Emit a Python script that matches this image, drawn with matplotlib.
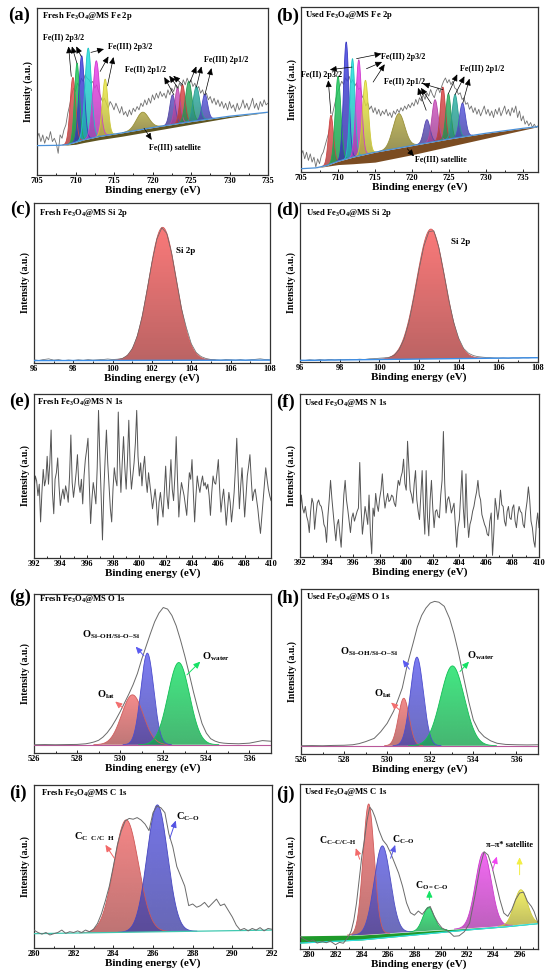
import numpy as np
import matplotlib
matplotlib.use('Agg')
import matplotlib.pyplot as plt
import matplotlib.colors as mcolors

plt.rcParams['font.family'] = ['Liberation Serif', 'DejaVu Serif']
plt.rcParams['font.weight'] = 'bold'
plt.rcParams['axes.labelweight'] = 'bold'
plt.rcParams['mathtext.fontset'] = 'custom'
plt.rcParams['mathtext.rm'] = 'Liberation Serif:bold'
plt.rcParams['mathtext.it'] = 'Liberation Serif:bold'
plt.rcParams['mathtext.bf'] = 'Liberation Serif:bold'
plt.rcParams['axes.linewidth'] = 0.9
plt.rcParams['axes.edgecolor'] = '#333333'

# ---------------- data (intensities in % of panel height) ----------------
# (a) fresh Fe 2p, raw spectrum 705-735 eV, step 0.25
fe_a_raw = [22, 25, 20, 24, 19, 23, 21, 26, 20, 22, 19, 13, 24, 22, 27, 30,
            37, 42, 48, 52, 50, 55, 53, 58, 56, 60, 58, 57, 55, 56, 52, 54,
            50, 47, 44, 46, 43, 40, 44, 42, 39, 43, 40, 37, 41, 36, 38, 35,
            39, 36, 40, 38, 41, 39, 43, 41, 45, 42, 46, 43, 48, 45, 49, 46,
            50, 47, 49, 46, 51, 48, 52, 50, 54, 51, 55, 53, 57, 54, 58, 55,
            57, 53, 55, 51, 53, 49, 51, 47, 49, 45, 47, 43, 46, 42, 45, 41,
            44, 40, 43, 39, 44, 40, 42, 38, 43, 39, 41, 45, 40, 43, 39, 42,
            46, 40, 43, 39, 44, 41, 45, 42, 43]
fe_a_bg_x = [705, 708, 709, 710, 711, 713, 716, 720, 725, 730, 735]
fe_a_bg_y = [17.6, 17.8, 18.3, 19.6, 21, 23, 25.2, 28.4, 32, 35.2, 37.6]
fe_a_band = [0, 0, 0.3, 1.2, 1.6, 1.9, 2.0, 2.0, 1.6, 0.8, 0]
fe_a_centers = [709.66, 710.2, 710.8, 711.65, 712.7, 713.85, 718.7,
                722.6, 723.25, 723.9, 724.7, 725.7, 726.8]
fe_a_tops = [58.4, 67, 71.4, 76, 68.4, 57.4, 37.6, 48, 52, 54, 56, 53, 48.4]
fe_a_sigma = [0.36, 0.32, 0.36, 0.42, 0.45, 0.36, 0.8, 0.36, 0.36, 0.34, 0.42, 0.42, 0.36]

# (b) used Fe 2p, raw spectrum 705-737 eV, step 0.25
fe_b_raw = [10, 13, 8, 12, 7, 11, 6, 9, 3, 8, 5, 10, 12, 16, 20, 24,
            30, 35, 40, 45, 49, 52, 55, 53, 57, 55, 58, 54, 56, 52, 54, 50,
            51, 46, 44, 40, 42, 38, 40, 36, 39, 35, 38, 34, 37, 35, 38, 34,
            36, 33, 37, 35, 38, 36, 39, 37, 40, 38, 41, 39, 42, 40, 44, 41,
            45, 43, 47, 44, 48, 46, 50, 47, 45, 49, 51, 48, 52, 55, 57, 54,
            56, 53, 55, 51, 50, 47, 48, 44, 45, 41, 42, 38, 40, 36, 39, 35,
            38, 34, 37, 40, 35, 38, 34, 37, 33, 38, 35, 39, 34, 37, 40, 35,
            38, 34, 39, 36, 40, 33, 37, 31, 34, 29, 31, 28, 30, 27, 29, 27, 28]
fe_b_bg_x = [705, 707, 708.5, 710, 712, 715, 720, 725, 730, 735, 737]
fe_b_bg_y = [2, 2.5, 4, 6.5, 9, 12, 16, 20, 23.5, 26.5, 27.5]
fe_b_band = [0, 0, 0.5, 2, 4, 6, 5.5, 4.5, 3, 1, 0]
fe_b_centers = [709.04, 710.0, 711.1, 711.95, 712.8, 713.7, 718.2,
                722.0, 723.1, 724.15, 724.9, 725.8, 726.8]
fe_b_tops = [34.3, 58, 78.8, 68.7, 68, 55.6, 35.4, 31.7, 43.8, 51.5, 47.5, 47, 41.8]
fe_b_sigma = [0.34, 0.38, 0.36, 0.34, 0.38, 0.4, 0.8, 0.42, 0.42, 0.34, 0.34, 0.4, 0.4]

fe_colors = ['#f05252', '#20d060', '#4444e6', '#22e6e6', '#f044f0', '#f2ee44',
             '#b4aa44', '#6454c8', '#d454c4', '#e44a4a', '#30b464', '#30b8aa', '#5a5ae4']

# Fe annotations: label, label position, arrow tails, arrow heads
fe_a_labels = ['Fe(II) 2p3/2', 'Fe(III) 2p3/2', 'Fe(II) 2p1/2', 'Fe(III) 2p1/2', 'Fe(III) satellite']
fe_a_label_pos = [(708.4, 82), (717.1, 76.6), (719.1, 62.6), (729.6, 69), (722.9, 16.4)]
fe_a_tails = [[(709.45, 59), (710.18, 67), (710.74, 71)],
              [(712.0, 73.4), (713.2, 62), (714.15, 53.4)],
              [(722.78, 48), (723.34, 52), (723.9, 54)],
              [(724.85, 55.4), (725.7, 52.6), (726.8, 48)],
              [(718.9, 28)]]
fe_a_heads = [[(709.1, 77), (709.53, 77), (710.1, 77)],
              [(713.7, 75.4), (714.28, 71), (714.93, 70.6)],
              [(721.53, 58.6), (722.18, 59.4), (722.7, 59.4)],
              [(725.7, 65), (726.36, 65), (727.66, 64)],
              [(719.9, 21)]]

fe_b_labels = fe_a_labels
fe_b_label_pos = [(707.8, 58.6), (718.8, 69.7), (719.0, 54.5), (729.4, 62.6), (723.9, 7.7)]
fe_b_tails = [[(709.04, 35.4), (711.9, 63.6)],
              [(712.5, 68.7), (713.84, 62.6), (714.74, 54.5)],
              [(721.9, 37.4), (722.6, 41.4), (724.16, 49.9)],
              [(724.9, 47.5), (725.8, 46.9), (726.85, 41.8)],
              [(719.36, 14.1)]]
fe_b_heads = [[(708.68, 55.6), (708.9, 62)],
              [(715.86, 71.7), (715.95, 66.7), (716.3, 65.3)],
              [(720.8, 51), (721.2, 51), (721.45, 53.5)],
              [(726.1, 59.2), (727.07, 58), (727.75, 56.6)],
              [(720.25, 9.5)]]

# (c)/(d) Si 2p, raw 96-108 eV, step 0.25
si_c_raw = [2.0, 1.6, 2.2, 2.6, 1.8, 2.1, 1.5, 1.9, 1.6, 2.0, 1.7, 2.1, 1.8,
            2.0, 2.2, 2.5, 2.2, 2.4, 2.9, 4.8, 9, 16.8, 29, 45.5, 63, 77.5,
            84.5, 81, 68.5, 51, 34, 22, 12, 6.5, 4, 2.8, 2.2, 2.0, 1.8, 2.1,
            2.0, 1.8, 2.1, 1.7, 2.0, 2.3, 2.6, 2.2, 2.0]
si_d_raw = [1.2, 1.0, 1.4, 1.1, 1.5, 1.2, 1.6, 1.3, 1.5, 1.4, 1.7, 1.5, 1.8,
            1.6, 2.0, 2.1, 2.4, 2.6, 3.0, 4.2, 7.8, 14.5, 25.5, 41, 58, 73,
            82, 82.5, 72, 56, 39, 25, 15, 8.5, 5.5, 4, 3.3, 3, 2.8, 2.6, 2.5,
            2.6, 2.4, 2.6, 2.5, 2.7, 2.6, 2.8, 2.7]
si_c_bg = [1.5, 1.8]
si_d_bg = [1.0, 2.7]
si_c_peak = (102.54, 84.8, 0.70)
si_d_peak = (102.6, 83.6, 0.72)

# (e)/(f) N 1s, raw 392-410 eV, step 0.1
n_e_raw = [42, 50, 47, 38, 45, 22, 40, 54, 44, 48, 62, 45, 58, 78, 40, 27,
           48, 52, 61, 44, 32, 38, 42, 36, 44, 40, 34, 50, 75, 46, 37, 44,
           52, 63, 45, 40, 48, 33, 50, 60, 66, 73, 45, 21, 36, 46, 40, 33,
           55, 90, 62, 38, 11, 40, 60, 78, 58, 44, 30, 22, 42, 55, 48, 44,
           89, 60, 40, 58, 74, 55, 42, 60, 84, 56, 42, 50, 58, 70, 90, 62,
           50, 58, 44, 55, 62, 48, 40, 52, 45, 38, 30, 36, 42, 33, 20, 34,
           40, 32, 25, 40, 56, 38, 30, 45, 60, 42, 35, 50, 74, 48, 25, 38,
           46, 42, 38, 32, 26, 40, 52, 48, 60, 40, 22, 38, 50, 44, 40, 46,
           50, 44, 46, 42, 45, 38, 26, 40, 50, 46, 45, 52, 60, 42, 28, 36,
           42, 32, 20, 30, 40, 34, 22, 30, 40, 55, 73, 50, 30, 44, 55, 40,
           25, 38, 50, 56, 63, 48, 35, 40, 42, 36, 30, 22, 15, 25, 35, 45,
           55, 48, 42, 38, 35]
n_f_raw = [27, 38, 30, 27, 31, 25, 22, 15, 28, 36, 33, 17, 26, 33, 35, 32,
           31, 27, 20, 18, 9, 25, 35, 47, 36, 27, 18, 10, 20, 23, 14, 6,
           22, 38, 47, 35, 29, 22, 15, 24, 27, 22, 25, 28, 30, 58, 30, 14,
           22, 31, 26, 20, 38, 15, 2, 30, 25, 39, 32, 28, 36, 41, 51, 38,
           30, 35, 39, 34, 35, 38, 37, 33, 31, 40, 47, 44, 49, 52, 60, 45,
           41, 71, 55, 41, 38, 33, 45, 53, 35, 28, 23, 38, 53, 30, 14, 53,
           25, 13, 35, 47, 30, 18, 28, 29, 25, 24, 38, 47, 77, 45, 27, 35,
           37, 33, 27, 30, 33, 20, 6, 18, 23, 38, 53, 30, 18, 51, 25, 12,
           20, 23, 28, 31, 36, 40, 47, 38, 35, 26, 23, 20, 18, 14, 13, 22,
           27, 1, 15, 36, 30, 23, 30, 41, 32, 31, 22, 19, 28, 31, 24, 23,
           30, 32, 22, 18, 26, 31, 28, 27, 20, 18, 28, 34, 43, 35, 22, 18,
           10, 6, 20, 27, 18]

# (g)/(h) O 1s envelopes and fitted components
o_g_x = [526.0, 526.5, 527.0, 527.5, 528.0, 528.4, 528.6, 528.8, 529.0, 529.2,
         529.4, 529.6, 529.8, 530.0, 530.2, 530.4, 530.6, 530.8, 531.0, 531.2,
         531.4, 531.6, 531.8, 532.0, 532.2, 532.4, 532.6, 532.8, 533.0, 533.2,
         533.4, 533.6, 533.8, 534.0, 534.2, 534.4, 534.6, 534.8, 535.0, 535.5,
         536.0, 536.3, 536.6, 537.0]
o_g_env = [5.2, 5.3, 5.2, 5.3, 5.4, 5.8, 6.3, 7.0, 8.0, 10.0,
           12.8, 16.5, 21, 26, 31.5, 37, 43, 50, 59, 67,
           75, 82.5, 88, 91.5, 90.5, 86.5, 80, 71, 61, 50,
           38.5, 28, 18.5, 12.5, 9, 7.5, 6.6, 6.2, 6.0, 5.8,
           6.2, 7.0, 7.8, 7.4]
o_h_x = [526.0, 526.5, 527.0, 527.5, 528.0, 528.4, 528.7, 529.0, 529.4, 529.7,
         530.0, 530.3, 530.5, 530.7, 530.95, 531.2, 531.4, 531.6, 531.8, 532.0,
         532.2, 532.4, 532.65, 532.9, 533.1, 533.3, 533.57, 533.8, 534.0, 534.25,
         534.5, 534.8, 535.1, 535.5, 536.0, 536.5, 537.0]
o_h_env = [5.0, 5.1, 5.0, 5.2, 5.3, 5.6, 6.3, 7.5, 9.5, 13.5,
           18.6, 26, 32.8, 40, 55, 67, 77, 84, 88.5, 91.5,
           92.5, 92, 89.5, 82, 73, 62, 45, 31, 20.6, 14,
           10.5, 8, 6.5, 5.8, 5.6, 5.5, 5.6]
o_g_base = 5.2
o_h_base = 5.0
o_g_centers = [530.57, 531.26, 532.72]
o_g_tops = [36.6, 62.8, 56.9]
o_g_sigma = [0.5, 0.3, 0.5]
o_h_centers = [530.77, 531.38, 533.03]
o_h_tops = [33.8, 58.7, 53.4]
o_h_sigma = [0.25, 0.3, 0.55]
o_colors = ['#f26e6e', '#5a5af0', '#14e264']
o_labels = ['O$_{lat}$', 'O$_{Si\u2013OH/Si\u2013O\u2013Si}$', 'O$_{water}$']
o_g_label_pos = [(529.34, 36.6), (529.57, 74.3), (534.45, 60.3)]
o_g_tails = [(530.14, 28.2), (531.1, 61.1), (533.1, 49.2)]
o_g_heads = [(529.77, 32.4), (530.72, 66.9), (533.72, 57.5)]
o_h_label_pos = [(529.8, 36.8), (529.14, 62.1), (534.34, 59.5)]
o_h_tails = [(530.57, 26.7), (531.03, 51.4), (533.38, 50)]
o_h_heads = [(530.18, 31.2), (530.72, 57), (533.8, 56)]

# (i) fresh C 1s, envelope 280-292 eV, step 0.2
c_i_env = [11, 9.5, 8.5, 9.5, 8.0, 8.8, 9.5, 11, 9.0, 10, 9.5, 10.5, 9.5,
           11, 10, 11.5, 15, 21, 29, 38, 50, 63, 72, 78, 79.5, 79, 80, 78.5,
           76, 72, 83, 87, 86, 83, 70, 62, 50, 44, 38, 26, 27, 25, 26, 28,
           25, 27.5, 30, 26, 27, 23, 19, 14, 11, 12, 10.5, 12, 11, 12.5,
           10.5, 12, 11.5]
c_i_bg = [8.8, 11]
c_i_centers = [284.65, 286.22]
c_i_tops = [78.6, 87.8]
c_i_sigma = [0.62, 0.52]
c_i_colors = ['#f26868', '#5252e2']
c_i_labels = ['C$_{C\\ \\ C/C\\ \\ H}$', 'C$_{C\u2013O}$']
c_i_label_pos = [(283.05, 68.4), (287.77, 80.6)]
c_i_tails = [(284.05, 55.1), (286.85, 67.3)]
c_i_heads = [(283.6, 63.3), (287.15, 78.2)]

# (j) used C 1s
c_j_x = [279.3, 279.6, 280.0, 280.3, 280.6, 281.0, 281.3, 281.6, 282.0, 282.3,
         282.6, 283.0, 283.2, 283.4, 283.6, 283.8, 284.0, 284.2, 284.4, 284.6,
         284.8, 285.0, 285.3, 285.6, 285.9, 286.2, 286.5, 286.8, 287.1, 287.4,
         287.7, 288.0, 288.3, 288.6, 288.9, 289.2, 289.5, 289.8, 290.1, 290.4,
         290.7, 291.0, 291.4, 291.8, 292.2, 292.6, 293.0, 293.3, 293.6, 293.9,
         294.2, 294.5, 294.8, 295.1, 295.4, 295.7, 296.0, 296.3, 296.6, 296.9,
         297.1, 297.4]
c_j_env = [7.7, 6.0, 4.5, 5.5, 3.6, 4.5, 3.8, 4.8, 2.6, 4.0,
           3.5, 7.7, 11, 17.7, 28, 42, 56, 66, 78, 86,
           84, 80, 72, 66, 63, 58, 52, 46, 38, 28,
           22, 20.5, 23, 21, 24, 25.8, 20, 15.7, 12.7, 11.5,
           10, 7.7, 8, 10.5, 15.7, 32, 50, 59, 57, 50,
           40, 30, 21.8, 19.8, 23.8, 30, 33.9, 34.5, 28.8, 25.8,
           22.8, 15.7]
c_j_bg_x = [279.3, 284, 288, 292, 295, 297.4]
c_j_bg_top = [8, 8.5, 10.5, 12.5, 14, 15.7]
c_j_bg_low = [3.6, 5.5, 8.5, 11.5, 13.5, 15.4]
c_j_centers = [284.52, 285.56, 289.07, 293.25, 296.09]
c_j_tops = [87.9, 62.5, 25.4, 58.5, 35.9]
c_j_sigma = [0.42, 0.62, 0.42, 0.6, 0.5]
c_j_colors = ['#f26a6a', '#5a5ae6', '#14e264', '#f044f0', '#f2ee44']
c_j_labels = ['C$_{C\u2013C/C\u2013H}$', 'C$_{C\u2013O}$', 'C$_{O=C\u2013O}$', '\u03c0\u2013\u03c0* satellite', '']
c_j_label_pos = [(282.15, 65.7), (287.17, 66.5), (289.34, 38.3), (295.2, 63.1), (296.0, 60)]
c_j_tails = [(283.84, 54.4), (286.19, 55), (289.14, 29.8), (293.94, 47.6), (296.0, 45)]
c_j_heads = [(283.54, 61.1), (286.54, 63.1), (289.14, 35.5), (294.27, 56), (296.0, 55.6)]

# ---------------- helpers ----------------
fig = plt.figure(figsize=(5.5, 9.8), dpi=100)


def make_ax(l, t, r, b):
    return fig.add_axes([l / 550, 1 - b / 980, (r - l) / 550, (b - t) / 980])


def style(ax, xlim, ticks, title, dx, dy):
    ax.set_xlim(*xlim)
    ax.set_ylim(0, 100)
    ax.set_xticks(ticks)
    step = ticks[1] - ticks[0]
    minor = np.arange(ticks[0] - step / 2, xlim[1] + 0.01, step / 2)
    ax.set_xticks([m for m in minor if xlim[0] <= m <= xlim[1]], minor=True)
    ax.set_yticks([])
    ax.tick_params(axis='x', which='both', direction='in', labelsize=6, pad=1.5, width=0.6)
    ax.tick_params(axis='x', which='major', length=2.5)
    ax.tick_params(axis='x', which='minor', length=1.5)
    ax.set_xlabel('Binding energy (eV)', fontsize=8, labelpad=0.5)
    ax.set_ylabel('Intensity (a.u.)', fontsize=7, labelpad=3)
    ax.annotate(title, xy=(0, 1), xycoords='axes fraction', xytext=(dx * 0.72, -dy * 0.72),
                textcoords='offset points', fontsize=6.2, va='center', ha='left')


def peak(ax, x, base, c, top, s, color, z=3, alpha=0.8):
    amp = top - np.interp(c, x, base)
    y = base + amp * np.exp(-0.5 * ((x - c) / s) ** 2)
    keep = (y - base) > 0.05
    xs, bs, ys = x[keep], base[keep], y[keep]
    poly = ax.fill_between(xs, bs, ys, facecolor='none', edgecolor='none', zorder=z)
    rgb = np.array(mcolors.to_rgb(color))
    t = np.linspace(0, 1, 60)[:, None]
    grad = (rgb * 0.68 + 0.04) * (1 - t) + rgb * t
    img = np.concatenate([np.clip(grad, 0, 1), np.full((60, 1), alpha)], axis=1)[:, None, :]
    im = ax.imshow(img, extent=[xs.min(), xs.max(), bs.min(), ys.max()], origin='lower',
                   aspect='auto', interpolation='bilinear', zorder=z)
    im.set_clip_path(poly.get_paths()[0], transform=ax.transData)
    ax.plot(xs, ys, color=rgb * 0.85, lw=0.6, zorder=z + 0.1)


def arrow(ax, tail, head, color='black', lw=0.5):
    ax.annotate('', xy=head, xytext=tail,
                arrowprops=dict(arrowstyle='-|>,head_length=0.4,head_width=0.18',
                                color=color, lw=lw, shrinkA=0, shrinkB=0), zorder=6)


def fe_panel(ax, xlim, raw, bg_x, bg_y, band, cs, tops, sig):
    xr = np.linspace(xlim[0], xlim[0] + 0.25 * (len(raw) - 1), len(raw))
    ax.plot(xr, raw, color='#707070', lw=0.6, zorder=2)
    xg = np.linspace(xlim[0], xlim[1], 1200)
    base = np.interp(xg, bg_x, bg_y)
    low = np.interp(xg, bg_x, np.array(bg_y) - np.array(band))
    for c, tp, s, col in zip(cs, tops, sig, fe_colors):
        peak(ax, xg, base, c, tp, s, col, z=3, alpha=0.85)
    ax.plot(bg_x, bg_y, color='#4a90d8', lw=0.9, zorder=4)
    return xg, base, low


# ---------------- (a) ----------------
ax = make_ax(37, 8, 268, 175)
xg, base, low = fe_panel(ax, (705, 735), fe_a_raw, fe_a_bg_x, fe_a_bg_y, fe_a_band,
                         fe_a_centers, fe_a_tops, fe_a_sigma)
ax.fill_between(xg, low, base, color='#5f5520', zorder=3.5, lw=0)
for lab, pos, tl, hd in zip(fe_a_labels, fe_a_label_pos, fe_a_tails, fe_a_heads):
    ax.text(pos[0], pos[1], lab, fontsize=5.8, ha='center', va='center', zorder=7)
    for t_, h_ in zip(tl, hd):
        arrow(ax, t_, h_)
style(ax, (705, 735), [705, 710, 715, 720, 725, 730, 735], 'Fresh Fe$_3$O$_4$@MS Fe 2p', 5, 8)

# ---------------- (b) ----------------
ax = make_ax(301, 7, 538, 172)
xg, base, low = fe_panel(ax, (705, 737), fe_b_raw, fe_b_bg_x, fe_b_bg_y, fe_b_band,
                         fe_b_centers, fe_b_tops, fe_b_sigma)
ax.fill_between(xg, low, base, color='#7b4c22', zorder=3.5, lw=0)
for lab, pos, tl, hd in zip(fe_b_labels, fe_b_label_pos, fe_b_tails, fe_b_heads):
    ax.text(pos[0], pos[1], lab, fontsize=5.8, ha='center', va='center', zorder=7)
    for t_, h_ in zip(tl, hd):
        arrow(ax, t_, h_)
style(ax, (705, 737), [705, 710, 715, 720, 725, 730, 735], 'Used Fe$_3$O$_4$@MS Fe 2p', 4, 8)

# ---------------- (c), (d) ----------------
for rect, raw, bg, pk, title, dxy, lpos in [
        ((34, 203, 270, 363), si_c_raw, si_c_bg, si_c_peak, 'Fresh Fe$_3$O$_4$@MS Si 2p', (5, 10), (103.73, 69.8)),
        ((300, 203, 538, 362), si_d_raw, si_d_bg, si_d_peak, 'Used Fe$_3$O$_4$@MS Si 2p', (5.5, 10), (104.1, 75.2))]:
    ax = make_ax(*rect)
    xr = np.linspace(96, 108, len(raw))
    xg = np.linspace(96, 108, 800)
    base = np.interp(xg, [96, 108], bg)
    peak(ax, xg, base, pk[0], pk[1], pk[2], '#fa6a6a', z=3, alpha=0.9)
    ax.plot([96, 108], bg, color='#3a8ee8', lw=1.0, zorder=4)
    ax.plot(xr, raw, color='#666666', lw=0.5, zorder=3.5)
    ax.text(lpos[0], lpos[1], 'Si 2p', fontsize=6.5, ha='center', va='center')
    style(ax, (96, 108), [96, 98, 100, 102, 104, 106, 108], title, *dxy)

# ---------------- (e), (f) ----------------
for rect, raw, title, dxy in [
        ((34, 394, 271, 558), n_e_raw, 'Fresh Fe$_3$O$_4$@MS N 1s', (3, 8)),
        ((300, 394, 539, 557), n_f_raw, 'Used Fe$_3$O$_4$@MS N 1s', (4, 9))]:
    ax = make_ax(*rect)
    xr = np.linspace(392, 410, len(raw))
    ax.plot(xr, raw, color='#555555', lw=0.7)
    style(ax, (392, 410), [392, 394, 396, 398, 400, 402, 404, 406, 408, 410], title, *dxy)

# ---------------- (g), (h) ----------------
for rect, ex, ey, b0, cs, tops, sig, lpos, tl, hd, title, dxy in [
        ((34, 594, 271, 753), o_g_x, o_g_env, o_g_base, o_g_centers, o_g_tops, o_g_sigma,
         o_g_label_pos, o_g_tails, o_g_heads, 'Fresh Fe$_3$O$_4$@MS O 1s', (5, 5)),
        ((301, 589, 538, 754), o_h_x, o_h_env, o_h_base, o_h_centers, o_h_tops, o_h_sigma,
         o_h_label_pos, o_h_tails, o_h_heads, 'Used Fe$_3$O$_4$@MS O 1s', (4.7, 8))]:
    ax = make_ax(*rect)
    xg = np.linspace(526, 537, 900)
    base = np.full_like(xg, b0)
    for c, tp, s, col in zip(cs, tops, sig, o_colors):
        peak(ax, xg, base, c, tp, s, col, z=3, alpha=0.8)
    ax.plot([526, 537], [b0, b0], color='#b8589a', lw=0.8, zorder=4)
    ax.plot(ex, ey, color='#6a6a6a', lw=0.7, zorder=5)
    for lab, pos, t_, h_, col in zip(o_labels, lpos, tl, hd, o_colors):
        ax.text(pos[0], pos[1], lab, fontsize=7.5, ha='center', va='center')
        arrow(ax, t_, h_, color=col, lw=0.7)
    style(ax, (526, 537), [526, 528, 530, 532, 534, 536], title, *dxy)

# ---------------- (i) ----------------
ax = make_ax(34, 785, 272, 948)
xg = np.linspace(280, 292, 900)
base = np.interp(xg, [280, 292], c_i_bg)
for c, tp, s, col in zip(c_i_centers, c_i_tops, c_i_sigma, c_i_colors):
    peak(ax, xg, base, c, tp, s, col, z=3, alpha=0.8)
ax.plot([280, 292], c_i_bg, color='#40c8b0', lw=0.9, zorder=4)
ax.plot(np.linspace(280, 292, len(c_i_env)), c_i_env, color='#6a6a6a', lw=0.7, zorder=5)
for lab, pos, t_, h_, col in zip(c_i_labels, c_i_label_pos, c_i_tails, c_i_heads, c_i_colors):
    ax.text(pos[0], pos[1], lab, fontsize=7.5, ha='center', va='center')
    arrow(ax, t_, h_, color=col, lw=0.7)
style(ax, (280, 292), [280, 282, 284, 286, 288, 290, 292], 'Fresh Fe$_3$O$_4$@MS C 1s', 6.7, 8)

# ---------------- (j) ----------------
ax = make_ax(300, 784, 538, 949)
xg = np.linspace(279.3, 297.4, 1200)
base = np.interp(xg, c_j_bg_x, c_j_bg_top)
low = np.interp(xg, c_j_bg_x, c_j_bg_low)
ax.fill_between(xg, low, base, color='#1e9a2a', lw=0, zorder=2.5)
for c, tp, s, col in zip(c_j_centers, c_j_tops, c_j_sigma, c_j_colors):
    peak(ax, xg, base, c, tp, s, col, z=3, alpha=0.8)
ax.plot(c_j_bg_x, c_j_bg_low, color='#30e0e0', lw=0.9, zorder=4)
ax.plot(c_j_x, c_j_env, color='#6a6a6a', lw=0.7, zorder=5)
for lab, pos, t_, h_, col in zip(c_j_labels, c_j_label_pos, c_j_tails, c_j_heads, c_j_colors):
    if lab:
        ax.text(pos[0], pos[1], lab, fontsize=7 if lab.startswith('C') else 6,
                ha='center', va='center')
    arrow(ax, t_, h_, color=col, lw=0.7)
style(ax, (279.3, 297.4), [280, 282, 284, 286, 288, 290, 292, 294, 296], 'Used Fe$_3$O$_4$@MS C 1s', 4.3, 8)

# panel letters
for lab, px, py in [('(a)', 8, 15), ('(b)', 276, 16), ('(c)', 10, 209), ('(d)', 276, 210),
                    ('(e)', 9, 401), ('(f)', 276, 402), ('(g)', 9, 597), ('(h)', 276, 598),
                    ('(i)', 9, 793), ('(j)', 276, 794)]:
    fig.text(px / 550, 1 - py / 980, lab, fontsize=13.5, fontweight='bold', va='center', ha='left')

fig.savefig('out.png', dpi=100)
